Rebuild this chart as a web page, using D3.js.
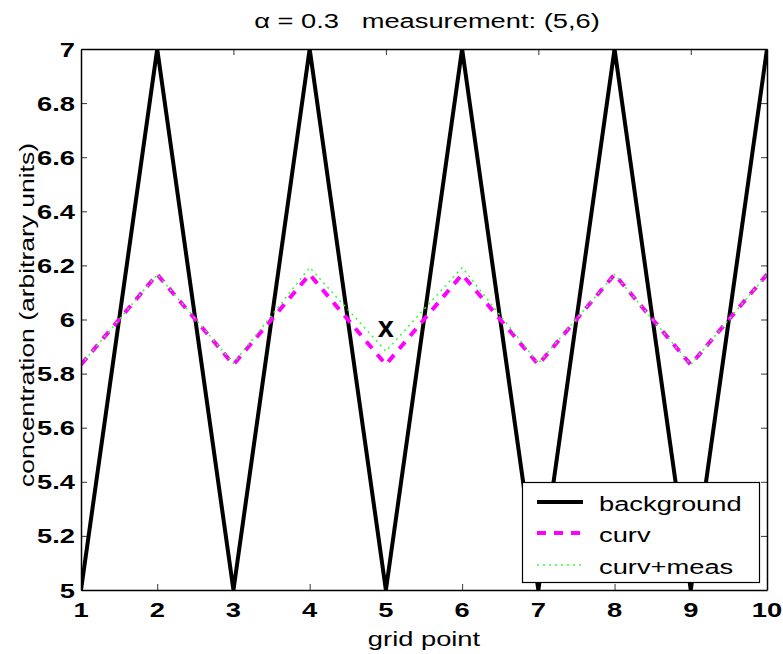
<!DOCTYPE html>
<html><head><meta charset="utf-8">
<script src="https://cdn.jsdelivr.net/npm/d3@7"></script>
<style>body{margin:0;background:#fff;} svg{display:block;} text{white-space:pre;}</style>
</head><body>
<script>
const gridPoints = [1,2,3,4,5,6,7,8,9,10];
const background = [5,7,5,7,5,7,5,7,5,7];
const curv = [5.8333,6.1667,5.8333,6.1667,5.8333,6.1667,5.8333,6.1667,5.8333,6.1667];
const curvMeas = [5.8333,6.1667,5.838,6.192,5.883,6.192,5.838,6.1667,5.8333,6.1667];
const xTicks = [1,2,3,4,5,6,7,8,9,10];
const yTicks = [5,5.2,5.4,5.6,5.8,6,6.2,6.4,6.6,6.8,7];
const measurement = {x:5, y:6, label:"x"};
const titleText = "\u03b1 = 0.3   measurement: (5,6)";
const seriesNames = ["background","curv","curv+meas"];

const W=783,H=654;
const m={l:81,r:767,t:49,b:590};
const SX=1.3; // horizontal text stretch seen in the reference
const svg=d3.select("body").append("svg").attr("width",W).attr("height",H);
const x=d3.scaleLinear().domain([1,10]).range([m.l,m.r]);
const y=d3.scaleLinear().domain([5,7]).range([m.b,m.t]);
const font="Liberation Sans, Arial, Helvetica, sans-serif";

svg.append("defs").append("clipPath").attr("id","plotclip").append("rect")
  .attr("x",m.l).attr("y",m.t).attr("width",m.r-m.l).attr("height",m.b-m.t);

function stext(px,py,str,opt){
  const g=svg.append("g").attr("transform",`translate(${px},${py}) scale(${opt.sx||SX},1)`);
  return g.append("text").attr("x",0).attr("y",0).attr("text-anchor",opt.anchor||"start")
    .attr("font-family",font).attr("font-size",opt.size||21).attr("font-weight",opt.bold?"bold":"normal")
    .attr("fill","#000").text(str);
}

const line=(vals)=>d3.line().x((d,i)=>x(gridPoints[i])).y(d=>y(d))(vals);
const plot=svg.append("g").attr("clip-path","url(#plotclip)");
plot.append("path").attr("d",line(background)).attr("fill","none").attr("stroke","#000").attr("stroke-width",4).attr("stroke-linejoin","miter").attr("stroke-miterlimit",20);
plot.append("path").attr("d",line(curv)).attr("fill","none").attr("stroke","#ff00ff").attr("stroke-width",4).attr("stroke-dasharray","9,8");
plot.append("path").attr("d",line(curvMeas)).attr("fill","none").attr("stroke","#33ff33").attr("stroke-width",1.5).attr("stroke-dasharray","2,4");

stext(x(measurement.x),y(measurement.y)+17.5,measurement.label,{anchor:"middle",bold:true,size:29,sx:1});

// axes (ticks inside, box)
const tickLen=6;
const ax=svg.append("g").attr("transform",`translate(0,${m.b})`).call(d3.axisBottom(x).tickValues(xTicks).tickSizeInner(-tickLen).tickSizeOuter(0).tickFormat(""));
const axT=svg.append("g").attr("transform",`translate(0,${m.t})`).call(d3.axisTop(x).tickValues(xTicks).tickSizeInner(-tickLen).tickSizeOuter(0).tickFormat(""));
const ay=svg.append("g").attr("transform",`translate(${m.l},0)`).call(d3.axisLeft(y).tickValues(yTicks).tickSizeInner(-tickLen).tickSizeOuter(0).tickFormat(""));
const ayR=svg.append("g").attr("transform",`translate(${m.r},0)`).call(d3.axisRight(y).tickValues(yTicks).tickSizeInner(-tickLen).tickSizeOuter(0).tickFormat(""));
[ax,axT,ay,ayR].forEach(g=>{
  g.select(".domain").attr("stroke","#000").attr("stroke-width",1.5);
  g.selectAll(".tick line").attr("stroke","#000").attr("stroke-width",0.8);
});
const fmt=d=>String(+d.toFixed(1));
xTicks.forEach(v=>stext(x(v),617,fmt(v),{anchor:"middle",bold:true}));
yTicks.forEach(v=>stext(75,y(v)+7.5,fmt(v),{anchor:"end",bold:true}));

stext(427,28,titleText,{anchor:"middle"});
stext(424,646,"grid point",{anchor:"middle"});
svg.append("g").attr("transform",`translate(34,315) rotate(-90) scale(1.26,1.0)`)
  .append("text").attr("text-anchor","middle").attr("font-family",font).attr("font-size",21).text("concentration (arbitrary units)");

// legend
const lg=svg.append("g");
lg.append("rect").attr("x",522.5).attr("y",482.5).attr("width",237).attr("height",100).attr("fill","#fff").attr("stroke","#000").attr("stroke-width",1.2);
const styles=[{c:"#000",w:4,d:null},{c:"#ff00ff",w:4,d:"9,8"},{c:"#33ff33",w:1.5,d:"2,4"}];
const rowsY=[502,533,565];
seriesNames.forEach((n,i)=>{
  const s=styles[i];
  const l=lg.append("line").attr("x1",537).attr("x2",583).attr("y1",rowsY[i]).attr("y2",rowsY[i]).attr("stroke",s.c).attr("stroke-width",s.w);
  if(s.d) l.attr("stroke-dasharray",s.d);
});
seriesNames.forEach((n,i)=>stext(599,rowsY[i]+8.7,n,{}));
</script>
</body></html>
